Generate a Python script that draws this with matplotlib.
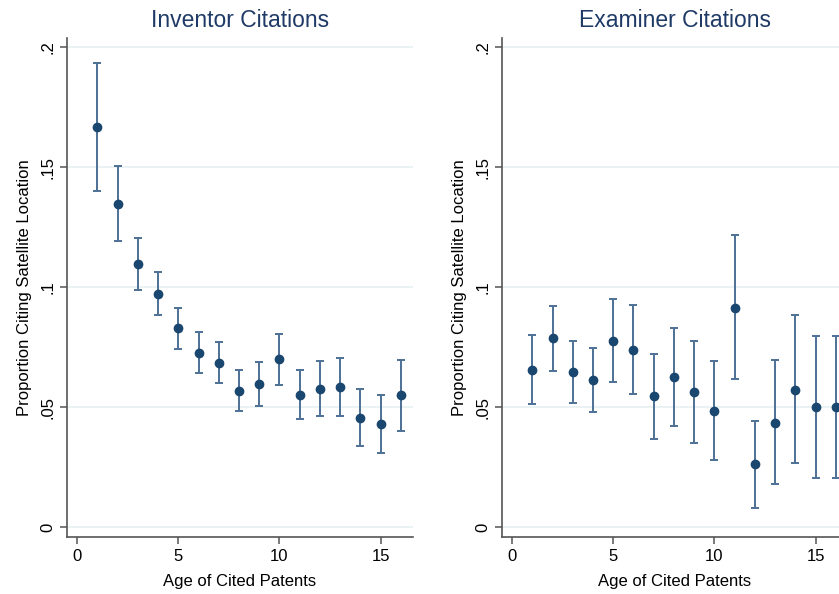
import numpy as np
import matplotlib.pyplot as plt

age = np.arange(1, 17)

inv_mean = [0.1665, 0.1346, 0.1098, 0.0973, 0.0830, 0.0727, 0.0684, 0.0569,
            0.0595, 0.0699, 0.0552, 0.0576, 0.0584, 0.0457, 0.0429, 0.0549]
inv_hi = [0.1931, 0.1506, 0.1205, 0.1065, 0.0915, 0.0812, 0.0770, 0.0657,
          0.0689, 0.0807, 0.0653, 0.0692, 0.0706, 0.0577, 0.0551, 0.0696]
inv_lo = [0.1402, 0.1191, 0.0990, 0.0883, 0.0744, 0.0642, 0.0600, 0.0486,
          0.0505, 0.0594, 0.0453, 0.0463, 0.0462, 0.0340, 0.0308, 0.0401]

exa_mean = [0.0657, 0.0787, 0.0647, 0.0614, 0.0776, 0.0738, 0.0547, 0.0627,
            0.0562, 0.0485, 0.0914, 0.0262, 0.0436, 0.0571, 0.0500, 0.0500]
exa_hi = [0.0802, 0.0922, 0.0777, 0.0745, 0.0950, 0.0925, 0.0723, 0.0828,
          0.0776, 0.0694, 0.1218, 0.0442, 0.0697, 0.0882, 0.0798, 0.0798]
exa_lo = [0.0514, 0.0651, 0.0517, 0.0481, 0.0604, 0.0554, 0.0368, 0.0424,
          0.0353, 0.0280, 0.0616, 0.0079, 0.0180, 0.0267, 0.0206, 0.0206]

titles = ['Inventor Citations', 'Examiner Citations']
yticks = [0, 0.05, 0.1, 0.15, 0.2]
ytick_labels = ['0', '.05', '.1', '.15', '.2']
xticks = [0, 5, 10, 15]

plt.rcParams['font.family'] = ['Liberation Sans', 'DejaVu Sans']
navy = '#1a476f'
title_col = '#1f3a66'
bar_col = '#4e7096'
grid_col = '#e8f1f2'

fig = plt.figure(figsize=(8.39, 5.94), dpi=100)
# right panel runs past the figure edge, as in the cropped original
positions = [[0.0799, 0.096, 0.4124, 0.840], [0.5983, 0.096, 0.4124, 0.840]]
panels = [(inv_mean, inv_lo, inv_hi), (exa_mean, exa_lo, exa_hi)]

for pos, (m, lo, hi), title in zip(positions, panels, titles):
    ax = fig.add_axes(pos)
    m = np.array(m)
    err = [m - np.array(lo), np.array(hi) - m]
    ax.errorbar(age, m, yerr=err, fmt='none', ecolor=bar_col, elinewidth=1.4,
                capsize=3.2, capthick=1.4, zorder=2)
    ax.plot(age, m, 'o', color=navy, ms=6, zorder=3)
    ax.set_xlim(-0.5, 16.6)
    ax.set_ylim(-0.004, 0.2037)
    ax.set_yticks(yticks)
    ax.set_yticklabels(ytick_labels, rotation=90, va='center')
    ax.set_xticks(xticks)
    ax.grid(axis='y', color=grid_col, linewidth=1.3)
    ax.set_axisbelow(True)
    for s in ['top', 'right']:
        ax.spines[s].set_visible(False)
    for s in ['left', 'bottom']:
        ax.spines[s].set_color('#555555')
        ax.spines[s].set_linewidth(1.2)
    ax.tick_params(colors='#555555', labelcolor='black', labelsize=12, length=5, width=1.1)
    ax.set_title(title, color=title_col, fontsize=16.5, pad=8)
    ax.set_xlabel('Age of Cited Patents', fontsize=12, labelpad=7)
    ax.set_ylabel('Proportion Citing Satellite Location', fontsize=12, labelpad=6)

fig.savefig('out.png', dpi=100)
